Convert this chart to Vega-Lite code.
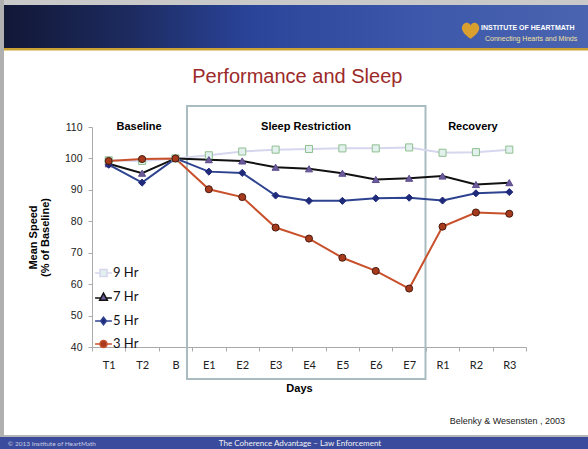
{
  "$schema": "https://vega.github.io/schema/vega-lite/v6.json",
  "width": 434,
  "height": 220,
  "autosize": "none",
  "padding": {"left": 92, "top": 127, "right": 62, "bottom": 102},
  "background": "white",
  "title": {"text": "Performance and Sleep", "anchor": "middle", "frame": "bounds", "offset": -87, "dx": 1, "font": "Liberation Sans", "fontSize": 20, "fontWeight": "normal", "color": "#9c2a2a"},
  "config": {"view": {"stroke": null}, "font": "Liberation Sans"},
  "datasets": {
    "speed": [
      {"day": "T1", "group": "9 Hr", "value": 99.4}, {"day": "T1", "group": "7 Hr", "value": 98.3}, {"day": "T1", "group": "5 Hr", "value": 98.0}, {"day": "T1", "group": "3 Hr", "value": 99.2},
      {"day": "T2", "group": "9 Hr", "value": 99.2}, {"day": "T2", "group": "7 Hr", "value": 95.3}, {"day": "T2", "group": "5 Hr", "value": 92.3}, {"day": "T2", "group": "3 Hr", "value": 99.8},
      {"day": "B", "group": "9 Hr", "value": 100}, {"day": "B", "group": "7 Hr", "value": 100}, {"day": "B", "group": "5 Hr", "value": 100}, {"day": "B", "group": "3 Hr", "value": 100},
      {"day": "E1", "group": "9 Hr", "value": 101.0}, {"day": "E1", "group": "7 Hr", "value": 99.6}, {"day": "E1", "group": "5 Hr", "value": 95.8}, {"day": "E1", "group": "3 Hr", "value": 90.2},
      {"day": "E2", "group": "9 Hr", "value": 102.2}, {"day": "E2", "group": "7 Hr", "value": 99.2}, {"day": "E2", "group": "5 Hr", "value": 95.4}, {"day": "E2", "group": "3 Hr", "value": 87.7},
      {"day": "E3", "group": "9 Hr", "value": 102.8}, {"day": "E3", "group": "7 Hr", "value": 97.2}, {"day": "E3", "group": "5 Hr", "value": 88.2}, {"day": "E3", "group": "3 Hr", "value": 78.0},
      {"day": "E4", "group": "9 Hr", "value": 103.0}, {"day": "E4", "group": "7 Hr", "value": 96.7}, {"day": "E4", "group": "5 Hr", "value": 86.5}, {"day": "E4", "group": "3 Hr", "value": 74.5},
      {"day": "E5", "group": "9 Hr", "value": 103.2}, {"day": "E5", "group": "7 Hr", "value": 95.3}, {"day": "E5", "group": "5 Hr", "value": 86.5}, {"day": "E5", "group": "3 Hr", "value": 68.4},
      {"day": "E6", "group": "9 Hr", "value": 103.2}, {"day": "E6", "group": "7 Hr", "value": 93.3}, {"day": "E6", "group": "5 Hr", "value": 87.3}, {"day": "E6", "group": "3 Hr", "value": 64.2},
      {"day": "E7", "group": "9 Hr", "value": 103.5}, {"day": "E7", "group": "7 Hr", "value": 93.7}, {"day": "E7", "group": "5 Hr", "value": 87.5}, {"day": "E7", "group": "3 Hr", "value": 58.6},
      {"day": "R1", "group": "9 Hr", "value": 101.8}, {"day": "R1", "group": "7 Hr", "value": 94.4}, {"day": "R1", "group": "5 Hr", "value": 86.6}, {"day": "R1", "group": "3 Hr", "value": 78.3},
      {"day": "R2", "group": "9 Hr", "value": 102.0}, {"day": "R2", "group": "7 Hr", "value": 91.7}, {"day": "R2", "group": "5 Hr", "value": 88.9}, {"day": "R2", "group": "3 Hr", "value": 82.8},
      {"day": "R3", "group": "9 Hr", "value": 102.8}, {"day": "R3", "group": "7 Hr", "value": 92.3}, {"day": "R3", "group": "5 Hr", "value": 89.3}, {"day": "R3", "group": "3 Hr", "value": 82.4}
    ],
    "sections": [
      {"label": "Baseline", "day": "T2"},
      {"label": "Sleep Restriction", "day": "E4"},
      {"label": "Recovery", "day": "R2"}
    ]
  },
  "resolve": {"scale": {"x": "independent", "y": "independent"}},
  "layer": [
    {
      "data": {"values": [{}]},
      "mark": {"type": "rect", "color": "#c9c9c9", "clip": false},
      "encoding": {
        "x": {"datum": -2.76, "type": "quantitative", "scale": {"domain": [0, 13], "nice": false, "zero": false}, "axis": null},
        "x2": {"datum": 15},
        "y": {"datum": 150.41, "type": "quantitative", "scale": {"domain": [40, 110], "nice": false, "zero": false}, "axis": null},
        "y2": {"datum": 148.82}
      }
    },
    {
      "data": {"values": [{}]},
      "mark": {"type": "rect", "color": "#b0b0b0", "clip": false},
      "encoding": {
        "x": {"datum": -2.76, "type": "quantitative", "scale": {"domain": [0, 13], "nice": false, "zero": false}, "axis": null},
        "x2": {"datum": -2.636},
        "y": {"datum": 150.41, "type": "quantitative", "scale": {"domain": [40, 110], "nice": false, "zero": false}, "axis": null},
        "y2": {"datum": 11.364}
      }
    },
    {
      "data": {"values": [{}]},
      "mark": {"type": "rect", "clip": false, "fill": {"gradient": "linear", "x1": 0, "x2": 1, "y1": 0, "y2": 0, "stops": [{"offset": 0, "color": "#111736"}, {"offset": 0.2, "color": "#1c295c"}, {"offset": 0.42, "color": "#2a4499"}, {"offset": 0.7, "color": "#3d58aa"}, {"offset": 1, "color": "#4a64b0"}]}},
      "encoding": {
        "x": {"datum": -2.636, "type": "quantitative", "scale": {"domain": [0, 13], "nice": false, "zero": false}, "axis": null},
        "x2": {"datum": 15},
        "y": {"datum": 148.82, "type": "quantitative", "scale": {"domain": [40, 110], "nice": false, "zero": false}, "axis": null},
        "y2": {"datum": 135.136}
      }
    },
    {
      "data": {"values": [{}]},
      "mark": {"type": "rect", "color": "#c9a233", "clip": false},
      "encoding": {
        "x": {"datum": -2.636, "type": "quantitative", "scale": {"domain": [0, 13], "nice": false, "zero": false}, "axis": null},
        "x2": {"datum": 15},
        "y": {"datum": 135.136, "type": "quantitative", "scale": {"domain": [40, 110], "nice": false, "zero": false}, "axis": null},
        "y2": {"datum": 134.34}
      }
    },
    {
      "data": {"values": [{}]},
      "mark": {"type": "rect", "color": "#b5b5b5", "clip": false},
      "encoding": {
        "x": {"datum": -2.636, "type": "quantitative", "scale": {"domain": [0, 13], "nice": false, "zero": false}, "axis": null},
        "x2": {"datum": 15},
        "y": {"datum": 12.0, "type": "quantitative", "scale": {"domain": [40, 110], "nice": false, "zero": false}, "axis": null},
        "y2": {"datum": 11.364}
      }
    },
    {
      "data": {"values": [{}]},
      "mark": {"type": "rect", "color": "#3a4b9e", "clip": false},
      "encoding": {
        "x": {"datum": -2.76, "type": "quantitative", "scale": {"domain": [0, 13], "nice": false, "zero": false}, "axis": null},
        "x2": {"datum": 15},
        "y": {"datum": 11.364, "type": "quantitative", "scale": {"domain": [40, 110], "nice": false, "zero": false}, "axis": null},
        "y2": {"datum": 4}
      }
    },
    {
      "data": {"values": [{}]},
      "mark": {"type": "rect", "filled": false, "stroke": "#a9bdc0", "strokeWidth": 2, "clip": false},
      "encoding": {
        "x": {"datum": 2.8456, "type": "quantitative", "scale": {"domain": [0, 13], "nice": false, "zero": false}, "axis": null},
        "x2": {"datum": 9.9896},
        "y": {"datum": 116.68, "type": "quantitative", "scale": {"domain": [40, 110], "nice": false, "zero": false}, "axis": null},
        "y2": {"datum": 29.82}
      }
    },
    {
      "data": {"values": [{}]},
      "mark": {"type": "point", "filled": true, "color": "#d9a030", "opacity": 1, "size": 300, "clip": false, "shape": "M0,0.9C-0.6,0.45,-1,0.1,-1,-0.35C-1,-0.75,-0.65,-0.95,-0.45,-0.95C-0.2,-0.95,0,-0.75,0,-0.6C0,-0.75,0.2,-0.95,0.45,-0.95C0.65,-0.95,1,-0.75,1,-0.35C1,0.1,0.6,0.45,0,0.9Z"},
      "encoding": {
        "x": {"datum": 11.34, "type": "quantitative", "scale": {"domain": [0, 13], "nice": false, "zero": false}, "axis": null},
        "y": {"datum": 140.55, "type": "quantitative", "scale": {"domain": [40, 110], "nice": false, "zero": false}, "axis": null}
      }
    },
    {
      "data": {"values": [{}]},
      "mark": {"type": "text", "text": "INSTITUTE OF HEARTMATH", "align": "left", "baseline": "middle", "font": "Liberation Sans", "fontSize": 7, "fontWeight": "bold", "color": "#ffffff", "clip": false},
      "encoding": {
        "x": {"datum": 11.652, "type": "quantitative", "scale": {"domain": [0, 13], "nice": false, "zero": false}, "axis": null},
        "y": {"datum": 141.5, "type": "quantitative", "scale": {"domain": [40, 110], "nice": false, "zero": false}, "axis": null}
      }
    },
    {
      "data": {"values": [{}]},
      "mark": {"type": "text", "text": "Connecting Hearts and Minds", "align": "left", "baseline": "middle", "font": "Liberation Sans", "fontSize": 7, "color": "#f0e0a0", "clip": false},
      "encoding": {
        "x": {"datum": 11.772, "type": "quantitative", "scale": {"domain": [0, 13], "nice": false, "zero": false}, "axis": null},
        "y": {"datum": 138.0, "type": "quantitative", "scale": {"domain": [40, 110], "nice": false, "zero": false}, "axis": null}
      }
    },
    {
      "data": {"values": [{}]},
      "mark": {"type": "text", "text": "© 2013 Institute of HeartMath", "align": "left", "baseline": "middle", "font": "Lato", "fontSize": 6.5, "color": "#c8cce0", "clip": false},
      "encoding": {
        "x": {"datum": -2.52, "type": "quantitative", "scale": {"domain": [0, 13], "nice": false, "zero": false}, "axis": null},
        "y": {"datum": 9.14, "type": "quantitative", "scale": {"domain": [40, 110], "nice": false, "zero": false}, "axis": null}
      }
    },
    {
      "data": {"values": [{}]},
      "mark": {"type": "text", "text": "The Coherence Advantage – Law Enforcement", "align": "center", "baseline": "middle", "font": "Lato", "fontSize": 8, "color": "#f2f2f2", "clip": false},
      "encoding": {
        "x": {"datum": 6.23, "type": "quantitative", "scale": {"domain": [0, 13], "nice": false, "zero": false}, "axis": null},
        "y": {"datum": 9.14, "type": "quantitative", "scale": {"domain": [40, 110], "nice": false, "zero": false}, "axis": null}
      }
    },
    {
      "data": {"values": [{}]},
      "mark": {"type": "text", "text": "Belenky & Wesensten , 2003", "align": "right", "baseline": "middle", "font": "Liberation Sans", "fontSize": 9, "color": "#222222", "clip": false},
      "encoding": {
        "x": {"datum": 14.17, "type": "quantitative", "scale": {"domain": [0, 13], "nice": false, "zero": false}, "axis": null},
        "y": {"datum": 16.45, "type": "quantitative", "scale": {"domain": [40, 110], "nice": false, "zero": false}, "axis": null}
      }
    },
    {
      "data": {"name": "speed"},
      "mark": {"type": "line", "strokeWidth": 2},
      "encoding": {
        "x": {"field": "day", "type": "ordinal", "sort": null,
          "scale": {"type": "band", "domain": ["T1", "T2", "B", "E1", "E2", "E3", "E4", "E5", "E6", "E7", "R1", "R2", "R3"], "paddingInner": 0, "paddingOuter": 0},
          "axis": {"title": "Days", "tickBand": "extent", "ticks": true, "tickSize": 4, "tickColor": "#aaaaaa", "domainColor": "#aaaaaa", "labelAngle": 0, "labelFont": "Lato", "labelFontSize": 11, "labelColor": "#222222", "labelPadding": 8, "grid": false, "titleFont": "Liberation Sans", "titleFontSize": 11, "titleFontWeight": "bold", "titleColor": "#000000", "titlePadding": 12, "titleX": 207}},
        "y": {"field": "value", "type": "quantitative",
          "scale": {"domain": [40, 110], "nice": false, "zero": false},
          "axis": {"title": ["Mean Speed", "(% of Baseline)"], "values": [40, 50, 60, 70, 80, 90, 100, 110], "tickSize": 4, "tickColor": "#aaaaaa", "domainColor": "#aaaaaa", "labelFont": "Liberation Sans", "labelFontSize": 10.5, "labelColor": "#222222", "labelPadding": 6, "grid": false, "titleFont": "Liberation Sans", "titleFontSize": 11, "titleFontWeight": "bold", "titleColor": "#000000", "titlePadding": 14, "titleLineHeight": 12}},
        "color": {"field": "group", "type": "nominal",
          "scale": {"domain": ["9 Hr", "7 Hr", "5 Hr", "3 Hr"], "range": ["#d6d6ee", "#111111", "#2e4390", "#c8502b"]},
          "legend": {"orient": "none", "legendX": 5, "legendY": 139.5, "title": null, "direction": "vertical", "labelFont": "Lato", "labelFontSize": 13, "labelColor": "#111111", "labelOffset": 3, "symbolSize": 49, "rowPadding": 9, "symbolStrokeWidth": 1.5,
            "encode": {"symbols": {"update": {
              "shape": {"signal": "datum.value === '9 Hr' ? 'M-2.4,0H-1M1,0H2.4M-1,-1H1V1H-1Z' : datum.value === '7 Hr' ? 'M-2.4,0.3H-0.9M0.9,0.3H2.4M0,-1.1L1.1,0.9H-1.1Z' : datum.value === '5 Hr' ? 'M-2.4,0H-0.85M0.85,0H2.4M0,-1.1L0.85,0L0,1.1L-0.85,0Z' : 'M-2.4,0H-1M1,0H2.4M-1,0A1,1,0,1,0,1,0A1,1,0,1,0,-1,0Z'"},
              "fill": {"signal": "datum.value === '9 Hr' ? '#e2f0ee' : datum.value === '7 Hr' ? '#6b5b9b' : datum.value === '5 Hr' ? '#1f2a7a' : '#a53a1c'"},
              "stroke": {"signal": "datum.value === '9 Hr' ? '#9cc29c' : datum.value === '7 Hr' ? '#222222' : datum.value === '5 Hr' ? '#2e4390' : '#c0492a'"},
              "opacity": {"value": 1}
            }}}}},
        "order": {"value": null}
      }
    },
    {
      "data": {"name": "speed"},
      "mark": {"type": "point", "opacity": 1, "strokeWidth": 1, "size": 50},
      "encoding": {
        "x": {"field": "day", "type": "ordinal", "sort": null,
          "scale": {"type": "band", "domain": ["T1", "T2", "B", "E1", "E2", "E3", "E4", "E5", "E6", "E7", "R1", "R2", "R3"], "paddingInner": 0, "paddingOuter": 0}, "axis": null},
        "y": {"field": "value", "type": "quantitative", "scale": {"domain": [40, 110], "nice": false, "zero": false}, "axis": null},
        "fill": {"field": "group", "type": "nominal", "scale": {"domain": ["3 Hr", "5 Hr", "7 Hr", "9 Hr"], "range": ["#a53a1c", "#1f2a7a", "#6b5b9b", "#e2f0ee"]}, "legend": null},
        "stroke": {"field": "group", "type": "nominal", "scale": {"domain": ["3 Hr", "5 Hr", "7 Hr", "9 Hr"], "range": ["#4a1a0e", "#1f2a7a", "#5a4a8a", "#8fbf8f"]}, "legend": null},
        "shape": {"field": "group", "type": "nominal", "scale": {"domain": ["3 Hr", "5 Hr", "7 Hr", "9 Hr"], "range": ["circle", "diamond", "triangle-up", "square"]}, "legend": null}
      }
    },
    {
      "data": {"name": "sections"},
      "mark": {"type": "text", "align": "center", "baseline": "middle", "dx": -3, "font": "Liberation Sans", "fontSize": 11, "fontWeight": "bold", "color": "#000000"},
      "encoding": {
        "x": {"field": "day", "type": "ordinal",
          "scale": {"type": "band", "domain": ["T1", "T2", "B", "E1", "E2", "E3", "E4", "E5", "E6", "E7", "R1", "R2", "R3"], "paddingInner": 0, "paddingOuter": 0}, "axis": null},
        "y": {"datum": 110, "type": "quantitative", "scale": {"domain": [40, 110], "nice": false, "zero": false}, "axis": null},
        "text": {"field": "label"}
      }
    }
  ]
}
